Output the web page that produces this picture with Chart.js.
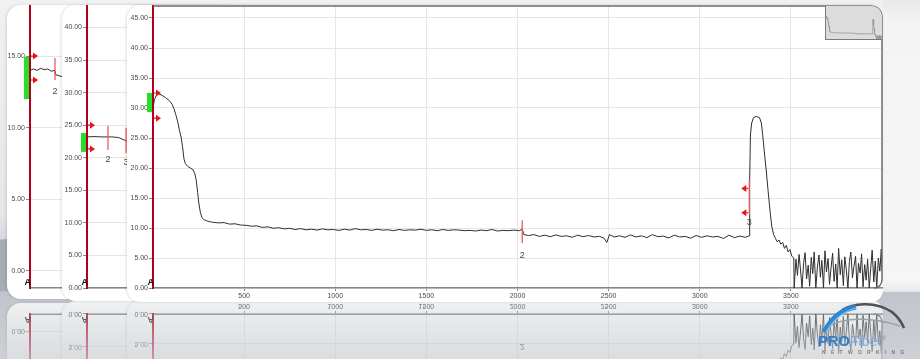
<!DOCTYPE html>
<html>
<head>
<meta charset="utf-8">
<script src="https://cdn.jsdelivr.net/npm/chart.js@4.4.0/dist/chart.umd.min.js"></script>
<style>
  html, body { margin:0; padding:0; }
  body {
    width:920px; height:359px; overflow:hidden; position:relative;
    background: linear-gradient(to bottom, #f0f1f2 0px, #e4e6e9 215px, #bcc1c8 285px, #c3c7cd 302px, #cdd0d5 359px);
    font-family: 'Liberation Sans', Arial, sans-serif;
  }
  #swoosh { position:absolute; left:-140px; top:238px; width:320px; height:52px; border-radius:50%;
            background:#a8adb5; transform:rotate(-5deg); }
  #rightbg { position:absolute; left:883px; top:0; width:37px; height:292px;
             background:linear-gradient(to bottom, #e9e9e9 0px, #f4f4f4 24px, #f6f6f6 280px, #e6e7e9 292px); }
  #cards { position:absolute; left:0; top:0; width:920px; height:301px;
           -webkit-box-reflect: below 0px linear-gradient(to bottom, rgba(0,0,0,0) 70%, rgba(0,0,0,0.4) 86%, rgba(0,0,0,0.75) 100%); }
  .card { position:absolute; top:5px; background:#fff; border-radius:14px; overflow:hidden;
          box-shadow:-1px 0 3px rgba(0,0,0,0.13); }
  .card canvas { position:absolute; top:-5px; }
  #c1 { left:7px;   width:230px; height:294px; }
  #c2 { left:62px;  width:230px; height:296px; }
  #c3 { left:127px; width:756px; height:297px; border-top-right-radius:12px; border-bottom-right-radius:12px; }
  #ovbox { position:absolute; left:825px; top:6px; width:57px; height:34px; background:#dcdcdc;
           border-left:1px solid #7a7a7a; border-bottom:1px solid #7a7a7a; border-top-right-radius:10px;
           box-sizing:border-box; overflow:hidden; }
  #ovbox canvas { position:absolute; left:0; top:0; }
  #logo { position:absolute; left:812px; top:296px; width:108px; height:63px; }
  #logo svg { position:absolute; left:0; top:0; }
  #logo .name { position:absolute; left:6px; top:36px; font-size:15px; letter-spacing:-0.3px; white-space:nowrap; }
  #logo .name b { color:#2f7fce; font-weight:bold; }
  #logo .name span { color:#7ea9d6; font-weight:normal; }
  #logo .name sup { font-size:5px; color:#888; }
  #logo .net { position:absolute; left:10px; top:53px; font-size:5px; letter-spacing:5.3px; color:#7b7b7b; font-weight:bold; }
</style>
</head>
<body>
<div id="swoosh"></div>
<div id="rightbg"></div>
<div id="cards">
  <div class="card" id="c1"><canvas id="p1" width="200" height="305" style="left:0"></canvas></div>
  <div class="card" id="c2"><canvas id="p2" width="200" height="305" style="left:1px"></canvas></div>
  <div class="card" id="c3"><canvas id="main" width="760" height="305" style="left:3px"></canvas></div>
  <div id="ovbox"><canvas id="ov" width="57" height="34"></canvas></div>
</div>
<div id="logo">
  <svg width="108" height="40" viewBox="0 0 108 40">
    <path d="M30 14 C 40 8, 62 4, 80 16 C 86 21, 90 27, 92 32" fill="none" stroke="#4d5259" stroke-width="2.6"/>
    <path d="M18 30 C 30 22, 58 20, 88 30" fill="none" stroke="#9aa0a8" stroke-width="1.4"/>
    <path d="M12 36 C 20 22, 28 14, 44 11" fill="none" stroke="#2f86d2" stroke-width="5"/>
    <path d="M14 36 C 22 24, 30 16, 44 12" fill="none" stroke="#8cc4ee" stroke-width="1.2"/>
  </svg>
  <div class="name"><b>PRO</b><span>Fiber</span><sup>®</sup></div>
  <div class="net">NETWORKING</div>
</div>

<script>
// ---- main OTDR trace: distance (m) / level (dB) ----
const traceDist = [
  0, 8, 20, 30, 50, 70, 90, 105, 115, 125, 135, 145, 155, 162, 170, 178, 190, 205, 220, 230,
  238, 245, 252, 260, 268, 278, 295, 310,
  330, 360, 390, 420, 450, 480, 510, 540, 570, 600, 630, 660, 690, 720, 750, 780, 810, 840, 870, 900,
  930, 960, 990, 1020, 1050, 1080, 1110, 1140, 1170, 1200, 1230, 1260, 1290, 1320, 1350, 1380, 1410,
  1440, 1470, 1500, 1530, 1560, 1590, 1620, 1650, 1680, 1710, 1740, 1770, 1800, 1830, 1860, 1890,
  1920, 1950, 1980, 2010, 2026,
  2035, 2060, 2090, 2120, 2150, 2180, 2210, 2240, 2270, 2300, 2330, 2360, 2390, 2420, 2450, 2475,
  2490, 2505, 2530, 2560, 2590, 2620, 2650, 2680, 2710, 2740, 2770, 2800, 2830, 2860, 2890, 2920,
  2950, 2980, 3010, 3040, 3070, 3100, 3130, 3160, 3190, 3220, 3250, 3272,
  3274, 3278, 3285, 3295, 3310, 3328, 3338, 3345, 3355, 3365, 3375, 3385, 3395, 3405, 3415, 3425,
  3435, 3445, 3455, 3465, 3475, 3485, 3495, 3505, 3516,
  3518, 3528, 3536, 3545, 3553, 3561, 3570, 3578, 3586, 3595, 3603, 3612, 3620, 3628, 3637, 3645,
  3654, 3662, 3670, 3679, 3687, 3695, 3704, 3712, 3721, 3729, 3737, 3746, 3754, 3762, 3771, 3779,
  3788, 3796, 3804, 3813, 3821, 3829, 3838, 3846, 3855, 3863, 3871, 3880, 3888, 3896, 3905, 3913,
  3921, 3930, 3938, 3946, 3955, 3963, 3971, 3980, 3988, 3996, 4000
];
const traceLevel = [
  30.0, 31.4, 32.2, 32.4, 32.1, 31.7, 31.2, 30.6, 29.9, 28.9, 27.8, 26.3, 25.0, 23.6, 21.5, 20.7, 20.3, 20.0, 19.7, 19.0,
  17.8, 15.9, 14.0, 12.6, 11.8, 11.4, 11.2, 11.05,
  10.95, 10.85, 10.9, 10.65, 10.7, 10.5, 10.45, 10.3, 10.35, 10.1, 10.2, 9.95, 10.05, 9.85, 9.95, 9.75, 9.9, 9.7, 9.8, 9.65,
  9.85, 9.7, 9.75, 9.6, 9.8, 9.65, 9.9, 9.7, 9.75, 9.6, 9.8, 9.65, 9.7, 9.55, 9.75, 9.6, 9.7,
  9.65, 9.8, 9.6, 9.7, 9.55, 9.75, 9.6, 9.7, 9.65, 9.55, 9.6, 9.5, 9.65, 9.55, 9.75, 9.5,
  9.6, 9.55, 9.65, 9.55, 9.8,
  8.9, 8.75, 8.9, 8.6, 8.8, 8.55, 8.85, 8.6, 8.7, 8.45, 8.8, 8.55, 8.75, 8.5, 8.6, 8.3,
  7.6, 8.9, 8.5, 8.7, 8.45, 8.85, 8.5, 8.7, 8.4, 8.9, 8.55, 8.65, 8.35, 8.8, 8.5, 8.6,
  8.3, 8.75, 8.45, 8.7, 8.5, 8.6, 8.25, 8.8, 8.4, 8.65, 8.45, 8.7,
  18.0, 25.5, 27.5, 28.4, 28.6, 28.4, 27.5, 25.6, 22.5, 19.5, 16.2, 13.0, 10.3, 8.9, 8.3, 7.7,
  8.0, 7.3, 7.6, 6.6, 7.1, 6.0, 6.4, 5.3, 5.0,
  0.0, 4.8, 2.1, 5.6, 3.0, 0.0, 4.2, 5.9, 1.5, 3.8, 0.3, 5.1, 2.4, 6.0, 0.0, 3.3,
  5.5, 1.8, 4.6, 0.0, 6.2, 2.7, 4.9, 0.6, 3.5, 5.8, 1.1, 4.0, 0.0, 6.6, 2.2, 4.7,
  0.4, 5.2, 3.1, 0.0, 4.4, 6.0, 1.7, 3.6, 5.3, 0.0, 4.1, 2.5, 5.7, 0.2, 3.9, 1.3,
  4.8, 0.0, 3.2, 6.3, 1.0, 4.5, 0.0, 5.0, 2.8, 6.5, 3.0
];
const xTicksMain = [500, 1000, 1500, 2000, 2500, 3000, 3500];

// ---- events on the main trace ----
const eventDist = [2026, 3272];
const eventLabel = ['2', '3'];
const eventTop = [11.3, 18.0];
const eventBottom = [7.5, 12.2];
const eventLabelLevel = [5.4, 10.9];

// ---- left (stacked) panels, partly hidden ----
const p1Dist  = [0, 2, 4, 6, 8, 10, 12, 14.1, 14.6, 17, 20, 30, 60, 100];
const p1Level = [14.0, 14.1, 14.0, 14.15, 14.05, 14.1, 13.95, 14.0, 13.7, 13.6, 13.55, 13.6, 13.55, 13.5];
const p2Dist  = [0, 4, 8, 12, 14, 18, 22.2, 30, 60, 100];
const p2Level = [23.2, 23.25, 23.2, 23.2, 23.2, 23.1, 22.6, 22.5, 22.4, 22.3];

const pts = (xs, ys) => xs.map((d, i) => ({x: d, y: ys[i]}));

Chart.defaults.font.family = "'Liberation Sans', Arial, sans-serif";
Chart.defaults.font.size = 7;
Chart.defaults.color = '#4a4a4a';

function arrow(ctx, x, y, dir) {
  // small red marker: stem + triangle, dir 1 = pointing right, -1 = pointing left
  ctx.fillStyle = '#e3141c';
  ctx.strokeStyle = '#e3141c';
  ctx.lineWidth = 1.2;
  ctx.beginPath();
  ctx.moveTo(x, y);
  ctx.lineTo(x + dir * 2, y);
  ctx.stroke();
  ctx.beginPath();
  ctx.moveTo(x + dir * 2, y - 3.5);
  ctx.lineTo(x + dir * 7, y);
  ctx.lineTo(x + dir * 2, y + 3.5);
  ctx.closePath();
  ctx.fill();
}

const otdrMarks = {
  id: 'otdrMarks',
  afterDatasetsDraw(chart, args, o) {
    if (!o || !o.on) return;
    const {ctx, chartArea: a, scales: {x, y}} = chart;
    ctx.save();
    if (o.frame) {
      ctx.strokeStyle = '#6a6a6a';
      ctx.lineWidth = 1.5;
      ctx.beginPath();
      ctx.moveTo(a.left, a.top);
      ctx.lineTo(a.right - 10, a.top);
      ctx.arcTo(a.right, a.top, a.right, a.top + 10, 10);
      ctx.lineTo(a.right, a.bottom - 8);
      ctx.arcTo(a.right, a.bottom, a.right - 8, a.bottom, 8);
      ctx.stroke();
    }
    // launch level block
    const t = y.getPixelForValue(o.launch[0]), b = y.getPixelForValue(o.launch[1]);
    ctx.fillStyle = '#25e025';
    ctx.fillRect(a.left - 6, t, 5, b - t);
    o.launchArrows.forEach(v => arrow(ctx, a.left + 1, y.getPixelForValue(v), 1));
    // events
    o.events.dist.forEach((d, i) => {
      const px = x.getPixelForValue(d);
      ctx.strokeStyle = '#ec5a5a';
      ctx.lineWidth = 1.3;
      ctx.beginPath();
      ctx.moveTo(px, y.getPixelForValue(o.events.top[i]));
      ctx.lineTo(px, y.getPixelForValue(o.events.bottom[i]));
      ctx.stroke();
      (o.events.arrows[i] || []).forEach(v => arrow(ctx, px - 1, y.getPixelForValue(v), -1));
      ctx.fillStyle = '#444';
      ctx.font = "9px 'Liberation Sans', Arial, sans-serif";
      ctx.textAlign = 'center';
      ctx.textBaseline = 'middle';
      ctx.fillText(o.events.label[i], px, y.getPixelForValue(o.events.labelLevel[i]));
    });
    // cursor A
    ctx.fillStyle = '#111';
    ctx.font = "bold 9px 'Liberation Sans', Arial, sans-serif";
    ctx.textAlign = 'right';
    ctx.textBaseline = 'bottom';
    ctx.fillText('A', a.left + 1, a.bottom - 1);
    ctx.restore();
  }
};
Chart.register(otdrMarks);

function panel(id, cfg) {
  return new Chart(document.getElementById(id), {
    type: 'line',
    data: { datasets: [{ data: cfg.data, borderColor: '#2e2e2e', borderWidth: 1, pointRadius: 0, tension: 0 }] },
    options: {
      responsive: false,
      animation: false,
      devicePixelRatio: 1,
      layout: { padding: { top: 6, right: cfg.padRight, bottom: 3, left: 0 } },
      plugins: { legend: { display: false }, tooltip: { enabled: false }, otdrMarks: cfg.marks },
      scales: {
        x: {
          type: 'linear', min: cfg.xMin, max: cfg.xMax,
          afterFit: s => { s.height = 14; },
          afterBuildTicks: s => { s.ticks = cfg.xTicks.map(v => ({value: v})); },
          ticks: { display: cfg.xTicks.length > 0, maxRotation: 0, padding: 1, autoSkip: false,
                   callback: v => String(v) },
          grid: { display: cfg.xTicks.length > 0, color: '#e6e6e6', tickColor: '#888', tickLength: 3 },
          border: { color: '#858585', width: 1.5 }
        },
        y: {
          min: cfg.yMin, max: cfg.yMax,
          afterFit: s => { s.width = cfg.yWidth; },
          ticks: { stepSize: 5, includeBounds: false, padding: 1, callback: v => Number(v).toFixed(2) },
          grid: { color: '#e6e6e6', tickColor: '#888', tickLength: 4 },
          border: { color: '#b0001c', width: 2 }
        }
      }
    }
  });
}

panel('p1', {
  data: pts(p1Dist, p1Level), xMin: 0, xMax: 100, xTicks: [], yMin: -1.2, yMax: 18.5, yWidth: 23, padRight: 0,
  marks: { on: true, launch: [14.95, 12.0], launchArrows: [15.0, 13.33],
           events: { dist: [14.1], top: [14.86], bottom: [13.33], label: ['2'], labelLevel: [12.5], arrows: [] } }
});
panel('p2', {
  data: pts(p2Dist, p2Level), xMin: 0, xMax: 100, xTicks: [], yMin: 0, yMax: 43.3, yWidth: 24, padRight: 0,
  marks: { on: true, launch: [23.8, 20.9], launchArrows: [25.0, 21.35],
           events: { dist: [11.9, 22.2], top: [24.9, 24.6], bottom: [21.2, 20.7], label: ['2', '3'],
                     labelLevel: [19.7, 19.2], arrows: [] } }
});
panel('main', {
  data: pts(traceDist, traceLevel), xMin: 0, xMax: 4000, xTicks: xTicksMain, yMin: 0, yMax: 47, yWidth: 23, padRight: 8,
  marks: { on: true, frame: true, launch: [32.5, 29.3], launchArrows: [32.5, 28.3],
           events: { dist: eventDist, top: eventTop, bottom: eventBottom, label: eventLabel,
                     labelLevel: eventLabelLevel, arrows: [[], [16.6, 12.55]] } }
});

// overview window (top right)
new Chart(document.getElementById('ov'), {
  type: 'line',
  data: { datasets: [{ data: pts(traceDist, traceLevel), borderColor: '#9a9a9a', borderWidth: 0.8, pointRadius: 0 }] },
  options: {
    responsive: false, animation: false, devicePixelRatio: 1,
    plugins: { legend: { display: false }, tooltip: { enabled: false } },
    scales: { x: { type: 'linear', min: 0, max: 4000, display: false }, y: { min: 0, max: 47, display: false } }
  }
});
</script>
</body>
</html>
